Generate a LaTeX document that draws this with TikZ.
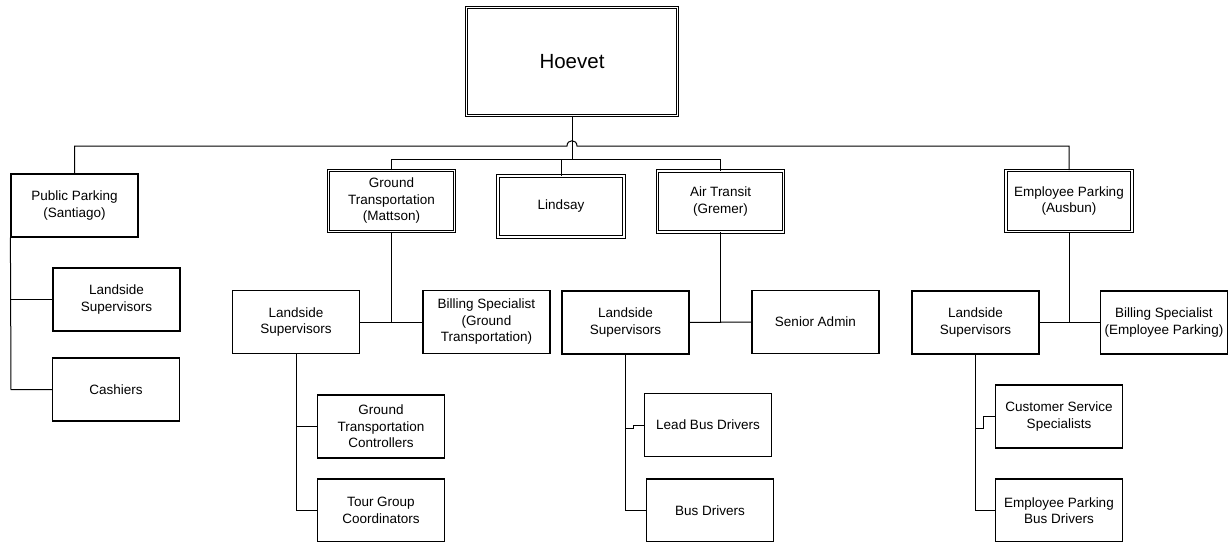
\documentclass[tikz,border=0pt]{standalone}
\usepackage{fontspec}
\setmainfont{Liberation Sans}
\begin{document}
\begin{tikzpicture}[x=1pt,y=-1pt,
  box/.style={draw, line width=1.2pt, inner sep=0pt, align=center,
    minimum width=127pt, minimum height=63pt,
    font=\fontsize{13.5}{16.5}\selectfont},
  dbox/.style={box, double, double distance=1.6pt, line width=0.8pt,
    minimum width=126pt, minimum height=61pt},
  conn/.style={line width=1pt}]
\useasboundingbox (0,0) rectangle (1229,541);
\clip (0,0) rectangle (1229,541);
% top
\node[dbox, minimum width=211pt, minimum height=108pt, font=\fontsize{20.5}{24}\selectfont] (hoevet) at (572,61.5) {Hoevet};
% level 1
\node[box] (pp) at (74.5,205.5) {Public Parking\\(Santiago)};
\node[dbox] (gt) at (391.5,201) {Ground\\Transportation\\(Mattson)};
\node[dbox] (lind) at (561,206.5) {Lindsay};
\node[dbox] (at) at (720.5,201.5) {Air Transit\\(Gremer)};
\node[dbox] (ep) at (1069,201) {Employee Parking\\(Ausbun)};
% level 2
\node[box] (ppls) at (116.5,299.5) {Landside\\Supervisors};
\node[box] (cash) at (116,389.5) {Cashiers};
\node[box] (gtls) at (296,322) {Landside\\Supervisors};
\node[box] (bsgt) at (486.5,322) {Billing Specialist\\(Ground\\Transportation)};
\node[box] (atls) at (625.5,322.5) {Landside\\Supervisors};
\node[box] (sa) at (815.5,322) {Senior Admin};
\node[box] (epls) at (975.5,322.5) {Landside\\Supervisors};
\node[box] (bsep) at (1164,322.5) {Billing Specialist\\(Employee Parking)};
% level 3
\node[box] (gtc) at (381,426.5) {Ground\\Transportation\\Controllers};
\node[box] (tgc) at (381,510.5) {Tour Group\\Coordinators};
\node[box] (lbd) at (708,425) {Lead Bus Drivers};
\node[box] (bd) at (710,510.5) {Bus Drivers};
\node[box] (css) at (1059,416.5) {Customer Service\\Specialists};
\node[box] (epbd) at (1059,510.5) {Employee Parking\\Bus Drivers};
% bus coordinates
\coordinate (busU) at (0,146);
\coordinate (busL) at (0,159);
\coordinate (h1) at (567,146);
\coordinate (h2) at (577,146);
\coordinate (ppx) at (11,0);
\coordinate (j1) at (633,428);
\coordinate (j2) at (633,425);
\coordinate (k1) at (983,428);
\coordinate (k2) at (983,416.5);
% connectors
\draw[conn] (pp.north) -- (pp.north |- busU) -- (h1) .. controls (567,139) and (577,139) .. (h2) -- (ep.north |- busU) -- (ep.north);
\draw[conn] (hoevet.south) -- (hoevet.south |- busL);
\draw[conn] (gt.north) -- (gt.north |- busL) -- (at.north |- busL) -- (at.north);
\draw[conn] (lind.north) -- (lind.north |- busL);
\draw[conn] (pp.south west) -- (ppx |- cash.west) -- (cash.west);
\draw[conn] (ppx |- ppls.west) -- (ppls.west);
\draw[conn] (gt.south) -- (gt.south |- gtls.east);
\draw[conn] (gtls.east) -- (bsgt.west);
\draw[conn] (gtls.south) -- (gtls.south |- tgc.west) -- (tgc.west);
\draw[conn] (gtls.south |- gtc.west) -- (gtc.west);
\draw[conn] (at.south) -- (at.south |- atls.east);
\draw[conn] (atls.east) -- (sa.west);
\draw[conn] (atls.south) -- (atls.south |- bd.west) -- (bd.west);
\draw[conn] (atls.south |- j1) -- (j1) -- (j2) -- (lbd.west);
\draw[conn] (ep.south) -- (ep.south |- epls.east);
\draw[conn] (epls.east) -- (bsep.west);
\draw[conn] (epls.south) -- (epls.south |- epbd.west) -- (epbd.west);
\draw[conn] (epls.south |- k1) -- (k1) -- (k2) -- (css.west);
\end{tikzpicture}
\end{document}
